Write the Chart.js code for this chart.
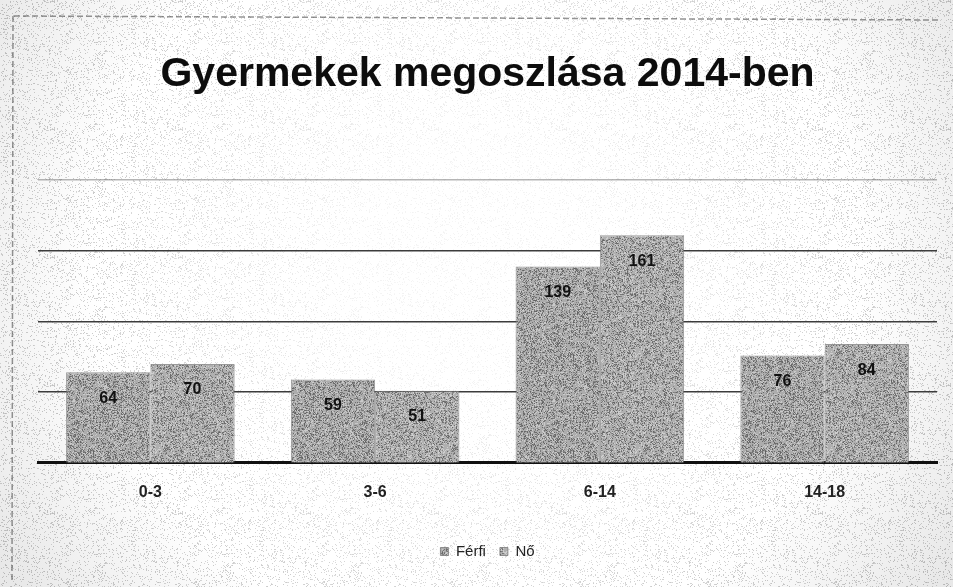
<!DOCTYPE html>
<html lang="hu">
<head>
<meta charset="utf-8">
<title>Gyermekek megoszlása 2014-ben</title>
<script src="https://cdn.jsdelivr.net/npm/chart.js@4.4.1/dist/chart.umd.min.js"></script>
<style>
  html, body { margin: 0; padding: 0; background: #fff; }
  #wrap { width: 953px; height: 587px; }
</style>
</head>
<body>
<div id="wrap"><canvas id="barChart" width="953" height="587"></canvas></div>
<script>
const categories = ['0-3', '3-6', '6-14', '14-18'];
const ferfi = [64, 59, 139, 76];
const no = [70, 51, 161, 84];
const seriesNames = ['Férfi', 'Nő'];
const yMax = 200;
const yStep = 50;

// speckled texture like a photocopy, from a small seeded generator
function grain(size, base, dark, amount, seed) {
  const c = document.createElement('canvas');
  c.width = size; c.height = size;
  const g = c.getContext('2d');
  const img = g.createImageData(size, size);
  let s = seed;
  const next = () => { s = (s * 1103515245 + 12345) & 0x7fffffff; return s / 0x7fffffff; };
  for (let i = 0; i < size * size; i++) {
    const r = next();
    let v = base;
    if (r < amount) v = dark + next() * 40;
    else if (r > 1 - amount * 0.6) v = Math.min(255, base + 30);
    img.data[i * 4] = v; img.data[i * 4 + 1] = v; img.data[i * 4 + 2] = v; img.data[i * 4 + 3] = 255;
  }
  g.putImageData(img, 0, 0);
  return c;
}

const ctx = document.getElementById('barChart');
const pctx = ctx.getContext('2d');
const barFerfi = pctx.createPattern(grain(96, 172, 95, 0.28, 7), 'repeat');
const barNo = pctx.createPattern(grain(96, 176, 98, 0.26, 19), 'repeat');
const paperGrain = grain(128, 255, 150, 0.12, 3);

const paperBackground = {
  id: 'paperBackground',
  beforeDraw(chart) {
    const c = chart.ctx;
    const w = chart.width, h = chart.height;
    c.save();
    c.fillStyle = '#ffffff';
    c.fillRect(0, 0, w, h);
    c.globalAlpha = 0.8;
    c.fillStyle = c.createPattern(paperGrain, 'repeat');
    c.fillRect(0, 0, w, h);
    c.globalAlpha = 1;
    const grad = c.createRadialGradient(w * 0.5, h * 0.45, 120, w * 0.5, h * 0.45, 560);
    grad.addColorStop(0, 'rgba(255,255,255,0.85)');
    grad.addColorStop(0.6, 'rgba(255,255,255,0.35)');
    grad.addColorStop(1, 'rgba(190,190,190,0.35)');
    c.fillStyle = grad;
    c.fillRect(0, 0, w, h);
    // outer frame of the chart box
    c.strokeStyle = 'rgba(60,60,60,0.55)';
    c.lineWidth = 1.5;
    c.setLineDash([6, 3]);
    c.beginPath();
    c.moveTo(14, 16); c.lineTo(940, 20);
    c.moveTo(13, 16); c.lineTo(12, 580);
    c.stroke();
    c.restore();
  }
};

const valueLabels = {
  id: 'valueLabels',
  afterDatasetsDraw(chart) {
    const c = chart.ctx;
    c.save();
    c.font = 'bold 16px "Liberation Sans"';
    c.fillStyle = '#111';
    c.textAlign = 'center';
    c.textBaseline = 'middle';
    chart.data.datasets.forEach((ds, i) => {
      chart.getDatasetMeta(i).data.forEach((bar, j) => {
        c.fillText(ds.data[j], bar.x, bar.y + 26);
      });
    });
    c.restore();
  }
};

new Chart(ctx, {
  type: 'bar',
  data: {
    labels: categories,
    datasets: [{
      label: seriesNames[0],
      data: ferfi,
      backgroundColor: barFerfi,
      borderColor: 'rgba(110,110,110,0.7)',
      borderWidth: 1,
      categoryPercentage: 0.75,
      barPercentage: 1.0
    }, {
      label: seriesNames[1],
      data: no,
      backgroundColor: barNo,
      borderColor: 'rgba(110,110,110,0.7)',
      borderWidth: 1,
      categoryPercentage: 0.75,
      barPercentage: 1.0
    }]
  },
  options: {
    responsive: false,
    animation: false,
    layout: { padding: { left: 38, right: 16, top: 0, bottom: 18 } },
    plugins: {
      title: {
        display: true,
        text: 'Gyermekek megoszlása 2014-ben',
        color: '#0d0d0d',
        font: { family: '"Liberation Sans"', size: 41, weight: 'bold' },
        padding: { top: 50, bottom: 81 }
      },
      legend: {
        position: 'bottom',
        labels: {
          color: '#222',
          font: { family: '"Liberation Sans"', size: 15 },
          boxWidth: 8,
          boxHeight: 8,
          padding: 14
        }
      },
      tooltip: { enabled: false }
    },
    scales: {
      x: {
        grid: { display: false },
        border: { display: true, color: '#111', width: 3 },
        ticks: {
          color: '#222',
          padding: 12,
          font: { family: '"Liberation Sans"', size: 16, weight: 'bold' }
        },
        // leave a gap between the category labels and the legend
        afterFit: (scale) => { scale.height += 16; }
      },
      y: {
        min: 0,
        max: yMax,
        ticks: { display: false, stepSize: yStep },
        border: { display: false },
        grid: {
          drawTicks: false,
          color: (c) => c.tick.value === yMax ? 'rgba(90,90,90,0.45)' : '#3c3c3c',
          lineWidth: (c) => c.tick.value === 0 ? 0 : 1.5
        }
      }
    }
  },
  plugins: [paperBackground, valueLabels]
});
</script>
</body>
</html>
